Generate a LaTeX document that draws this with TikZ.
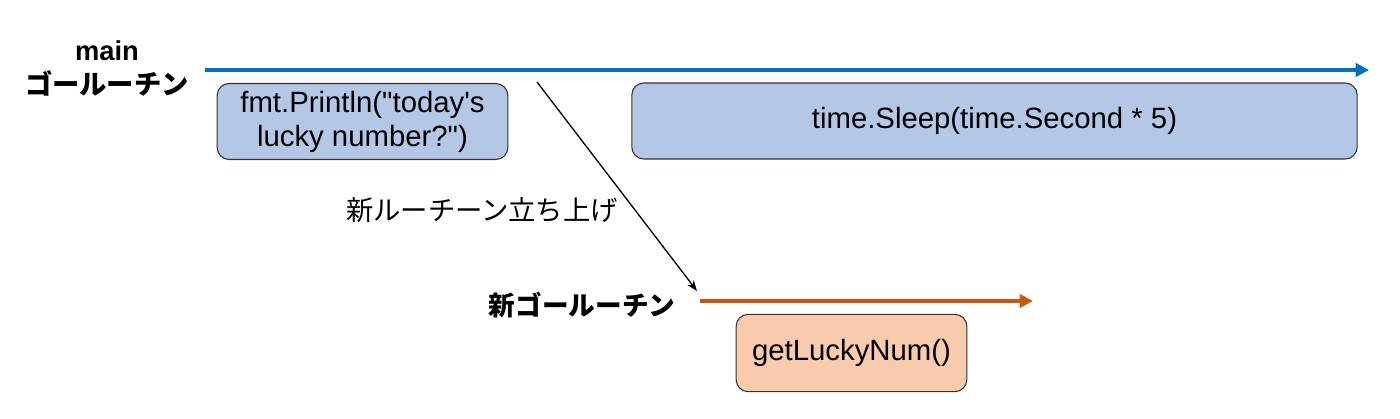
\documentclass[tikz,border=0pt]{standalone}
\usepackage{fontspec}
\setmainfont{Liberation Sans}[Ligatures=TeXOff]
\newfontfamily\jpfont{Noto Sans CJK JP}
\usetikzlibrary{arrows.meta}
\definecolor{mainblue}{HTML}{0070C0}
\definecolor{newrust}{HTML}{C55A11}
\definecolor{boxblue}{HTML}{B4C7E7}
\definecolor{boxpeach}{HTML}{F8CBAD}
\newcommand{\dq}{\symbol{"22}}
\newcommand{\sq}{\symbol{"27}}
\tikzset{
	callbox/.style={draw=black!80,line width=0.8pt,rounded corners=9pt,align=center,
		font=\fontsize{22}{25.5}\selectfont},
	timeline/.style={line width=2.4pt,-{Triangle[length=10pt,width=10pt]}},
	jplabel/.style={font=\fontsize{20.5}{25.5}\selectfont\jpfont}
}

\begin{document}
\begin{tikzpicture}[x=0.75pt,y=-0.75pt]
		\useasboundingbox (0,0) rectangle (1400,418);

		\node[align=center,font=\fontsize{20.5}{25.5}\selectfont\bfseries] (mainlbl) at (107,69) {main\\{\jpfont\bfseries ゴールーチン}};
		\coordinate (mainstart) at (205,70);
		\coordinate (mainend) at (1369,70);
		\draw[timeline,mainblue] (mainstart) -- (mainend);

		\node[callbox,fill=boxblue,minimum width=218pt,minimum height=57pt] (println) at (362.5,121.5) {fmt.Println(\dq today\sq s\\lucky number?\dq)};
		\node[callbox,fill=boxblue,minimum width=544pt,minimum height=57pt] (sleep) at (994.5,121) {time.Sleep(time.Second * 5)};

		\coordinate (spawnfrom) at (537,82);
		\coordinate (spawnto) at (697,291);
		\draw[line width=1pt,-{Stealth[length=8pt,width=6pt]}] (spawnfrom) -- (spawnto);
		\node[jplabel] (spawnlbl) at (482,210) {新ルーチーン立ち上げ};

		\node[jplabel,font=\fontsize{20}{25.5}\selectfont\jpfont\bfseries] (newlbl) at (582,305) {新ゴールーチン};
		\coordinate (newstart) at (700,301);
		\coordinate (newend) at (1033,301);
		\draw[timeline,newrust] (newstart) -- (newend);

		\node[callbox,fill=boxpeach,minimum width=173pt,minimum height=58pt] (lucky) at (851.5,353) {getLuckyNum()};

	\end{tikzpicture}
\end{document}
